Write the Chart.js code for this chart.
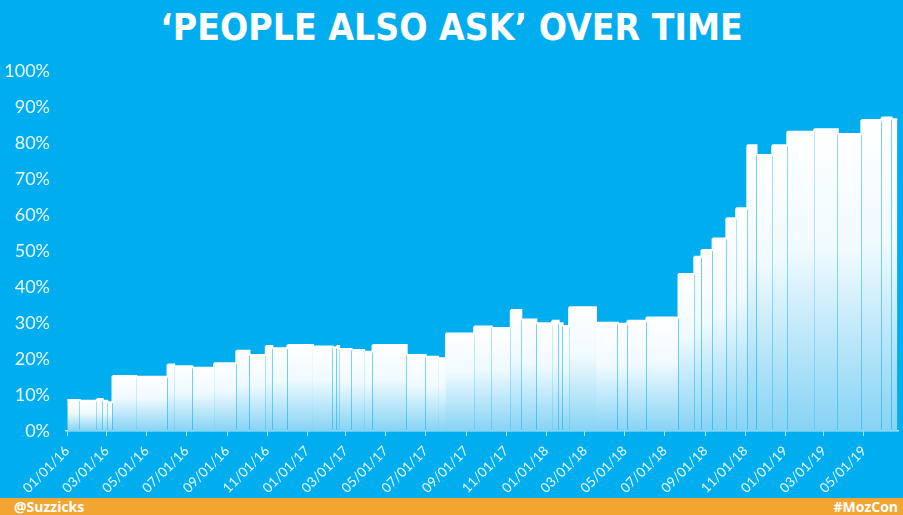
<!DOCTYPE html>
<html>
<head>
<meta charset="utf-8">
<script src="https://cdn.jsdelivr.net/npm/chart.js"></script>
<style>
html,body{margin:0;padding:0;width:903px;height:515px;overflow:hidden;background:#00aeef;}
#title{position:absolute;left:0;top:6px;width:903px;text-align:center;color:#fff;font-weight:bold;font-size:37px;font-family:'Liberation Sans Narrow','DejaVu Sans Condensed',sans-serif;line-height:44px;white-space:nowrap;}
#wrap{position:absolute;left:0;top:0;width:903px;height:497px;}
#footer{position:absolute;left:0;top:498px;width:903px;height:17px;background:#f2a531;}
#footer span{position:absolute;top:0;color:#fff;font-weight:bold;font-size:14px;font-family:'Open Sans',sans-serif;line-height:17px;}
#left{left:14px;}
#right{right:5px;}
</style>
</head>
<body>
<div id="title">‘PEOPLE ALSO ASK’ OVER TIME</div>
<div id="wrap"><canvas id="c" width="903" height="497"></canvas></div>
<div id="footer"><span id="left">@Suzzicks</span><span id="right">#MozCon</span></div>
<script>
const tickLabels = ['01/01/16','03/01/16','05/01/16','07/01/16','09/01/16','11/01/16',
  '01/01/17','03/01/17','05/01/17','07/01/17','09/01/17','11/01/17',
  '01/01/18','03/01/18','05/01/18','07/01/18','09/01/18','11/01/18',
  '01/01/19','03/01/19','05/01/19'];

// date each level starts (MM/DD/YY) and the share (%) from that day on
const stepDates = ['01/01/16','01/20/16','02/15/16','02/24/16','03/02/16','03/10/16','04/15/16',
  '06/02/16','06/12/16','07/10/16','08/12/16','09/15/16','10/05/16','10/30/16','11/09/16',
  '12/02/16','01/10/17','02/09/17','02/15/17','02/19/17','03/10/17','03/29/17','04/11/17',
  '06/02/17','07/01/17','07/20/17','08/01/17','09/13/17','10/10/17','11/08/17','11/24/17',
  '12/17/17','01/10/18','01/20/18','01/26/18','02/05/18','03/18/18','04/20/18','05/05/18',
  '06/03/18','07/22/18','08/15/18','08/26/18','09/12/18','10/03/18','10/18/18','11/04/18',
  '11/18/18','12/12/18','01/04/19','02/14/19','03/22/19','04/27/19','05/28/19','06/12/19','06/21/19'];
const stepValues = [8.6,8.4,8.9,8.4,8.0,15.3,15.1,
  18.5,18.0,17.6,18.8,22.3,21.1,23.6,23.0,
  23.9,23.5,23.2,23.6,22.8,22.5,22.0,23.9,
  21.1,20.6,20.2,27.1,29.0,28.6,33.6,31.0,
  29.9,30.6,29.9,29.2,34.4,30.1,29.8,30.6,
  31.5,43.6,48.4,50.3,53.5,59.1,61.9,79.4,
  76.7,79.4,83.1,83.8,82.5,86.4,87.1,86.6,86.6];

function dayIndex(s){
  const p = s.split('/').map(Number);
  return Math.round((Date.UTC(2000+p[2], p[0]-1, p[1]) - Date.UTC(2016,0,1)) / 86400000);
}

function segGrad(c){
  const chart = c.chart, area = chart.chartArea;
  if (!area || !c.p0 || !isFinite(c.p0.y)) return undefined;
  const g = chart.ctx.createLinearGradient(0, c.p0.y, 0, area.bottom);
  g.addColorStop(0, '#ffffff');
  g.addColorStop(0.4, '#f0faff');
  g.addColorStop(1, '#86d3f4');
  return g;
}

new Chart(document.getElementById('c'), {
  type: 'line',
  data: {
    datasets: [{
      data: stepDates.map((d, i) => ({x: dayIndex(d), y: stepValues[i]})),
      stepped: 'before',
      borderColor: '#ffffff',
      borderWidth: 2,
      pointRadius: 0,
      fill: 'origin',
      backgroundColor: '#e0f5fd',
      segment: { backgroundColor: segGrad }
    }]
  },
  options: {
    responsive: false,
    animation: false,
    layout: { padding: { left: 0, right: 5, top: 71, bottom: 0 } },
    plugins: { legend: { display: false }, tooltip: { enabled: false }, title: { display: false } },
    scales: {
      x: {
        type: 'linear',
        min: -2,
        max: 1268,
        afterBuildTicks: s => { s.ticks = tickLabels.map(l => ({ value: dayIndex(l) })); },
        afterFit: s => { s.height = 66; },
        ticks: {
          autoSkip: false,
          minRotation: 45,
          maxRotation: 45,
          padding: 7,
          color: 'rgba(255,255,255,0.92)',
          font: { family: 'Lato', size: 13.5 },
          callback: (v, i) => tickLabels[i]
        },
        grid: { drawOnChartArea: false, drawTicks: true, tickLength: 5, color: 'rgba(255,255,255,0.7)' },
        border: { display: true, color: 'rgba(255,255,255,0.75)', width: 1.5 }
      },
      y: {
        min: 0,
        max: 100,
        afterFit: s => { s.width = 66; },
        ticks: {
          stepSize: 10,
          padding: 8,
          color: 'rgba(255,255,255,0.92)',
          font: { family: 'Lato', size: 18 },
          callback: v => v + '%'
        },
        grid: { display: false },
        border: { display: false }
      }
    }
  }
});
</script>
</body>
</html>
